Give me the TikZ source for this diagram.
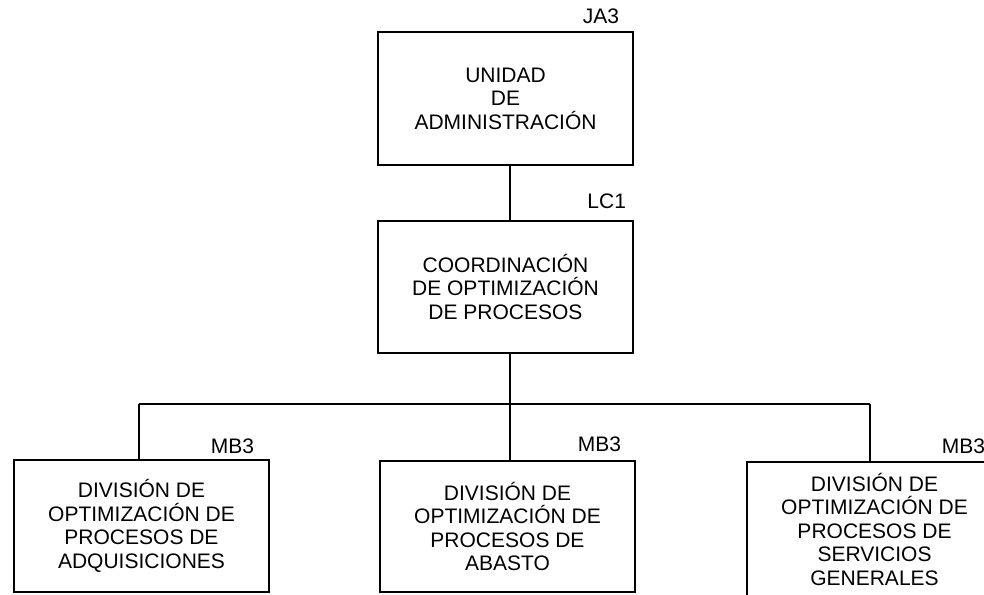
\documentclass[tikz,border=0pt]{standalone}
\usepackage{fontspec}
\setmainfont{Liberation Sans}
\usetikzlibrary{positioning}

\begin{document}
\begin{tikzpicture}[x=1pt,y=1pt,
        unit/.style={draw, line width=2.4pt, minimum width=255pt, minimum height=133pt,
                     align=center, inner sep=0pt, font=\fontsize{21}{23.5}\selectfont},
        code/.style={inner sep=0pt, font=\fontsize{21}{23.5}\selectfont},
        link/.style={line width=2pt}]
        \useasboundingbox (0,0) rectangle (984,594);
        \node[unit] (ua) at (505.5,495.5) {UNIDAD\\DE\\ADMINISTRACIÓN};
        \node[code, above left=7pt and 15pt of ua.north east] (ja) {JA3};
        \node[unit, minimum height=132pt] (coord) at (505.5,307) {COORDINACIÓN\\DE OPTIMIZACIÓN\\DE PROCESOS};
        \node[code, above left=11pt and 8pt of coord.north east] (lc) {LC1};
        \node[unit, minimum height=132pt] (adq) at (141.5,68) {DIVISIÓN DE\\OPTIMIZACIÓN DE\\PROCESOS DE\\ADQUISICIONES};
        \node[code, above left=5pt and 16pt of adq.north east] (mba) {MB3};
        \node[unit, minimum height=131pt] (abasto) at (507.5,67.5) {DIVISIÓN DE\\OPTIMIZACIÓN DE\\PROCESOS DE\\ABASTO};
        \node[code, above left=8pt and 15pt of abasto.north east] (mbb) {MB3};
        \node[unit, minimum height=134pt] (serv) at (874.5,65) {DIVISIÓN DE\\OPTIMIZACIÓN DE\\PROCESOS DE\\SERVICIOS\\GENERALES};
        \node[code, above left=7pt and 18pt of serv.north east] (mbc) {MB3};
        % bus
        \coordinate (bus) at (510,190);
        \coordinate (bl) at (139,190);
        \coordinate (br) at (870,190);
        \draw[link] (ua.south -| bus) -- (coord.north -| bus);
        \draw[link] (coord.south -| bus) -- (bus);
        \draw[link] (bl) -- (br);
        \draw[link] (bl) -- (bl |- adq.north);
        \draw[link] (bus) -- (bus |- abasto.north);
        \draw[link] (br) -- (br |- serv.north);
    \end{tikzpicture}
\end{document}
